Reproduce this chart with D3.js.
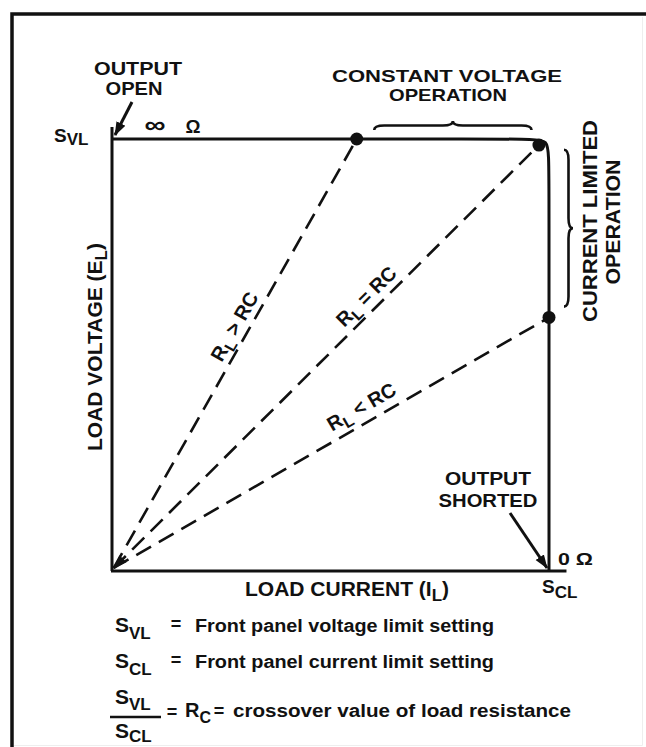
<!DOCTYPE html>
<html>
<head>
<meta charset="utf-8">
<script src="https://cdn.jsdelivr.net/npm/d3@7"></script>
<style>
    body { margin: 0; background: #fff; }
    svg text { font-family: "Liberation Sans", Arial, Helvetica, sans-serif; font-weight: bold; fill: #111; }
</style>
</head>
<body>
<script>
let width = 646
let height = 747

// load lines (I_L / S_CL , E_L / S_VL)
let loadLabels = [["R", "L", " > RC"], ["R", "L", " = RC"], ["R", "L", " < RC"]]
let endCurrent = [0.56, 0.977, 1.0]
let endVoltage = [1.0, 0.986, 0.587]

// supply characteristic: constant voltage then current limit
let charCurrent = [0, 0.95, 1, 1, 1]
let charVoltage = [1, 1, 1, 0.95, 0]

// operating regions covered by the braces
let cvRegion = [0.6, 0.96]
let clRegion = [0.975, 0.612]

// legend rows
let legendSymbols = [["S", "VL"], ["S", "CL"]]
let legendTexts = ["Front panel voltage limit setting", "Front panel current limit setting"]

const x = d3.scaleLinear().domain([0, 1]).range([112, 549])
const y = d3.scaleLinear().domain([0, 1]).range([571, 139])

const svg = d3.select("body").append("svg")
    .attr("width", width)
    .attr("height", height)
    .attr("viewBox", [0, 0, width, height])

const defs = svg.append("defs")
defs.append("marker")
    .attr("id", "head")
    .attr("markerUnits", "userSpaceOnUse")
    .attr("viewBox", "0 -6 14 12")
    .attr("refX", 13).attr("refY", 0)
    .attr("markerWidth", 14).attr("markerHeight", 12)
    .attr("orient", "auto-start-reverse")
    .append("path")
    .attr("d", "M0,-5L14,0L0,5Z")
    .attr("fill", "#111")

// outer frame
svg.append("path").attr("d", "M12,747V14H646").attr("fill", "none").attr("stroke", "#111").attr("stroke-width", 3.5)
svg.append("path").attr("d", "M642.5,17V745.5H14").attr("fill", "none").attr("stroke", "#eeeeee").attr("stroke-width", 1)

// axes
svg.append("line")
    .attr("x1", x(0)).attr("x2", x(0))
    .attr("y1", y(0)).attr("y2", y(1.028))
    .attr("stroke", "#111").attr("stroke-width", 3)
svg.append("line")
    .attr("x1", x(0) - 1).attr("x2", x(1.04))
    .attr("y1", y(0)).attr("y2", y(0))
    .attr("stroke", "#111").attr("stroke-width", 3)

// characteristic
const charData = charCurrent.map((c, i) => [c, charVoltage[i]])
svg.append("path")
    .datum(charData)
    .attr("fill", "none")
    .attr("stroke", "#111")
    .attr("stroke-width", 3)
    .attr("d", d3.line().x(d => x(d[0])).y(d => y(d[1])).curve(d3.curveBasis))

// load lines
const loads = endCurrent.map((c, i) => ({ c: c, v: endVoltage[i], label: loadLabels[i] }))

svg.append("g")
    .selectAll("line")
    .data(loads)
    .join("line")
    .attr("x1", x(0.004)).attr("y1", y(0.007))
    .attr("x2", d => x(d.c)).attr("y2", d => y(d.v))
    .attr("stroke", "#111")
    .attr("stroke-width", 2.6)
    .attr("stroke-dasharray", "17,9")
    .attr("marker-start", (d, i) => i === 1 ? "url(#head)" : null)

svg.append("g")
    .selectAll("circle")
    .data(loads)
    .join("circle")
    .attr("cx", d => x(d.c))
    .attr("cy", d => y(d.v))
    .attr("r", 6.5)
    .attr("fill", "#111")

// labels along the load lines
const along = [0.55, 0.62, 0.59]
const offs = [7, 8, 10]
loads.forEach((d, i) => {
    const x0 = x(0), y0 = y(0), x1 = x(d.c), y1 = y(d.v)
    const ang = Math.atan2(y1 - y0, x1 - x0) * 180 / Math.PI
    const px = x0 + (x1 - x0) * along[i]
    const py = y0 + (y1 - y0) * along[i]
    const t = svg.append("text")
        .attr("transform", `translate(${px},${py}) rotate(${ang})`)
        .attr("y", -offs[i])
        .attr("text-anchor", "middle")
        .attr("font-size", 20)
    t.append("tspan").text(d.label[0])
    t.append("tspan").attr("font-size", 16).attr("dy", 5).text(d.label[1])
    t.append("tspan").attr("dy", -5).text(d.label[2])
})

// braces
function braceH(x1, x2, yb, h) {
    const xm = (x1 + x2) / 2, yh = yb - h / 2, yt = yb - h, q = 10
    return `M${x1},${yb}Q${x1},${yh} ${x1 + q},${yh}L${xm - q},${yh}Q${xm},${yh} ${xm},${yt}` +
        `Q${xm},${yh} ${xm + q},${yh}L${x2 - q},${yh}Q${x2},${yh} ${x2},${yb}`
}
function braceV(xb, y1, y2, w) {
    const ym = (y1 + y2) / 2, xh = xb + w / 2, xt = xb + w, q = 10
    return `M${xb},${y1}Q${xh},${y1} ${xh},${y1 + q}L${xh},${ym - q}Q${xh},${ym} ${xt},${ym}` +
        `Q${xh},${ym} ${xh},${ym + q}L${xh},${y2 - q}Q${xh},${y2} ${xb},${y2}`
}
svg.append("path")
    .attr("d", braceH(x(cvRegion[0]), x(cvRegion[1]), y(1) - 9, 9))
    .attr("fill", "none").attr("stroke", "#111").attr("stroke-width", 2.6)
svg.append("path")
    .attr("d", braceV(x(1) + 15, y(clRegion[0]), y(clRegion[1]), 9))
    .attr("fill", "none").attr("stroke", "#111").attr("stroke-width", 2.6)

// text helper
function label(str, px, py, size, len, anchor) {
    const t = svg.append("text")
        .attr("x", px).attr("y", py)
        .attr("font-size", size)
        .attr("text-anchor", anchor || "middle")
        .text(str)
    if (len) t.attr("textLength", len).attr("lengthAdjust", "spacingAndGlyphs")
    return t
}

label("OUTPUT", 138, 75, 18, 88)
label("OPEN", 134, 95, 18, 57)
label("∞", 155, 133, 24, 21)
label("Ω", 193, 133, 18, 15)
label("CONSTANT VOLTAGE", 447, 82, 17, 230)
label("OPERATION", 448, 101, 17, 118)
label("OUTPUT", 488, 485, 18, 86)
label("SHORTED", 488, 507, 18, 99)
label("0 Ω", 558, 565, 17, 35, "start")

// top-left S_VL
const svl = svg.append("text").attr("x", 54).attr("y", 142).attr("font-size", 19)
svl.append("tspan").text("S")
svl.append("tspan").attr("font-size", 17).attr("dy", 3).text("VL")

// S_CL under the axis
const scl = svg.append("text").attr("x", 542).attr("y", 593).attr("font-size", 19)
scl.append("tspan").text("S")
scl.append("tspan").attr("font-size", 17).attr("dy", 5).text("CL")

// axis titles
const xt = svg.append("text").attr("x", 347).attr("y", 596).attr("font-size", 21).attr("text-anchor", "middle")
xt.append("tspan").text("LOAD CURRENT (I")
xt.append("tspan").attr("font-size", 17).attr("dy", 5).text("L")
xt.append("tspan").attr("dy", -5).text(")")

const yt = svg.append("text").attr("transform", "translate(102,347) rotate(-90)").attr("font-size", 21).attr("text-anchor", "middle")
yt.append("tspan").text("LOAD VOLTAGE (E")
yt.append("tspan").attr("font-size", 17).attr("dy", 5).text("L")
yt.append("tspan").attr("dy", -5).text(")")

svg.append("text").attr("transform", "translate(597,221) rotate(-90)")
    .attr("font-size", 20).attr("text-anchor", "middle")
    .attr("textLength", 202).attr("lengthAdjust", "spacingAndGlyphs")
    .text("CURRENT LIMITED")
svg.append("text").attr("transform", "translate(620,222) rotate(-90)")
    .attr("font-size", 20).attr("text-anchor", "middle")
    .attr("textLength", 125).attr("lengthAdjust", "spacingAndGlyphs")
    .text("OPERATION")

// legend
function symbol(px, py, s, sub) {
    const t = svg.append("text").attr("x", px).attr("y", py).attr("font-size", 21)
    t.append("tspan").text(s[0])
    t.append("tspan").attr("font-size", 17).attr("dy", sub).text(s[1])
}
const rowY = [632, 668]
legendSymbols.forEach((s, i) => {
    symbol(115, rowY[i], s, 7)
    label("=", 176, rowY[i] - 2, 18)
    label(legendTexts[i], 195, rowY[i], 18, 299, "start")
})

symbol(115, 704, legendSymbols[0], 6)
svg.append("line").attr("x1", 110).attr("x2", 161).attr("y1", 717).attr("y2", 717)
    .attr("stroke", "#111").attr("stroke-width", 2.5)
symbol(115, 738, legendSymbols[1], 4)
label("=", 172, 718, 18)
const rc = svg.append("text").attr("x", 185).attr("y", 717).attr("font-size", 20)
rc.append("tspan").text("R")
rc.append("tspan").attr("font-size", 16).attr("dy", 6).text("C")
label("=", 219, 717, 18)
label("crossover value of load resistance", 233, 717, 18, 338, "start")

// arrows
svg.append("line").attr("x1", 132).attr("y1", 102).attr("x2", 115).attr("y2", 135)
    .attr("stroke", "#111").attr("stroke-width", 3).attr("marker-end", "url(#head)")
svg.append("line").attr("x1", 510).attr("y1", 513).attr("x2", 547).attr("y2", 568)
    .attr("stroke", "#111").attr("stroke-width", 3).attr("marker-end", "url(#head)")
</script>
</body>
</html>
